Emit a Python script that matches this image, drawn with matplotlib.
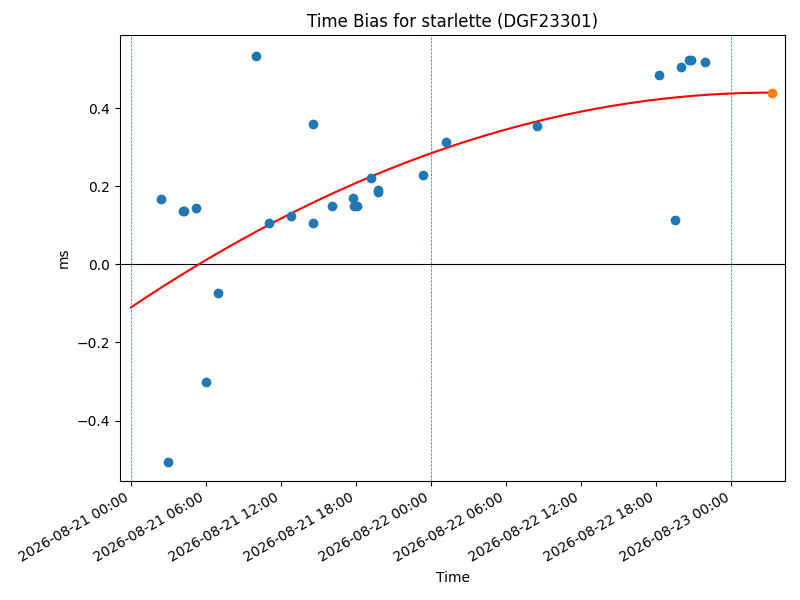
import numpy as np
import pandas as pd
import matplotlib
matplotlib.use("Agg")
import matplotlib.pyplot as plt
import matplotlib.dates as mdates

start = pd.Timestamp("2026-08-21 00:00")

# hours since start, bias in ms
hours = [2.42, 2.98, 4.13, 4.26, 5.23, 6.00, 6.98, 9.99, 11.05, 12.81,
         14.57, 14.57, 16.09, 17.77, 17.85, 18.04, 19.21, 19.77, 19.77,
         23.34, 25.18, 32.45, 42.20, 43.50, 43.98, 44.60, 44.76, 45.88]
bias = [0.167, -0.505, 0.136, 0.136, 0.144, -0.300, -0.074, 0.533, 0.105, 0.123,
        0.359, 0.105, 0.149, 0.170, 0.150, 0.150, 0.221, 0.191, 0.185,
        0.229, 0.314, 0.356, 0.485, 0.115, 0.506, 0.523, 0.523, 0.520]

# fitted quadratic (c2, c1, c0) in hours
fit_coef = [-0.000210, 0.0215, -0.110]
pred_hour = 51.24

day_marks = ["2026-08-21", "2026-08-22", "2026-08-23"]

times = [start + pd.Timedelta(hours=h) for h in hours]

fit_h = np.linspace(0, pred_hour, 200)
fit_v = np.polyval(fit_coef, fit_h)
fit_t = [start + pd.Timedelta(hours=h) for h in fit_h]
pred_t = start + pd.Timedelta(hours=pred_hour)
pred_v = np.polyval(fit_coef, pred_hour)

fig, ax = plt.subplots(figsize=(8, 6), dpi=100)
fig.subplots_adjust(left=0.15, right=0.98125, top=0.9417, bottom=0.1983)

ax.scatter(times, bias, color="C0", zorder=3)
ax.plot(fit_t, fit_v, color="red", lw=1.5, zorder=2)
ax.scatter([pred_t], [pred_v], color="C1", zorder=4)
ax.axhline(0, color="black", lw=0.8, zorder=1)
for d in day_marks:
    ax.axvline(pd.Timestamp(d), color="C0", linestyle="--", lw=0.5, zorder=1.5)

ax.set_xlim(start + pd.Timedelta(hours=-0.88), start + pd.Timedelta(hours=52.28))
ax.set_ylim(-0.555, 0.588)
ax.xaxis.set_major_locator(mdates.HourLocator(byhour=[0, 6, 12, 18]))
ax.xaxis.set_major_formatter(mdates.DateFormatter("%Y-%m-%d %H:%M"))
ax.set_yticks([-0.4, -0.2, 0.0, 0.2, 0.4])
for lbl in ax.get_xticklabels():
    lbl.set_rotation(30)
    lbl.set_ha("right")

ax.set_title("Time Bias for starlette (DGF23301)")
ax.set_xlabel("Time")
ax.set_ylabel("ms")

fig.savefig("out.png", dpi=100)
